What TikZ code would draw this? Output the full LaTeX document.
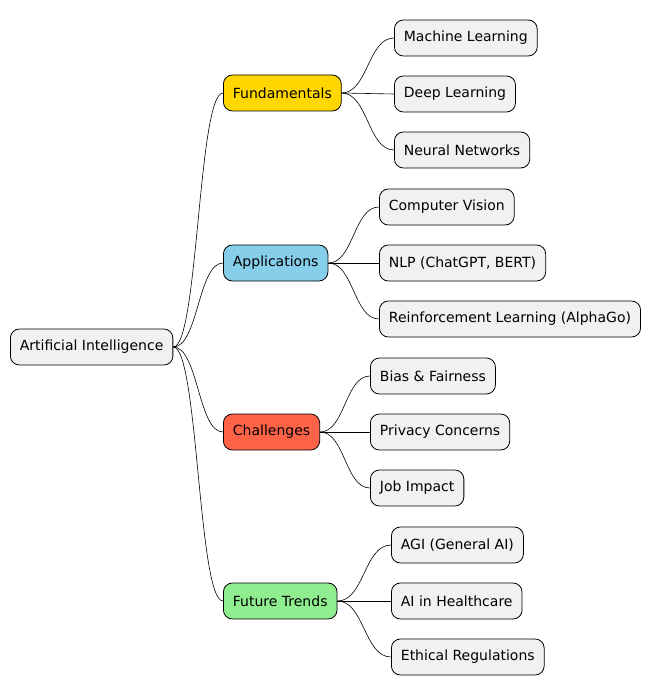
\documentclass[tikz,border=0pt]{standalone}
\usepackage{fontspec}
\setmainfont{DejaVu Sans}
\usetikzlibrary{calc}
\definecolor{cgold}{RGB}{255,215,0}
\definecolor{csky}{RGB}{135,206,235}
\definecolor{ctom}{RGB}{255,99,71}
\definecolor{cgrn}{RGB}{144,238,144}
\definecolor{cleaf}{RGB}{241,241,241}
\begin{document}
\begin{tikzpicture}[x=1pt,y=-1pt,
  box/.style={draw=black,line width=0.8pt,rounded corners=9pt,minimum height=36pt,inner xsep=9.5pt,anchor=west,font=\fontsize{14}{16}\selectfont,fill=#1},
  box/.default=cleaf,
  edge/.style={draw=black,line width=0.6pt}]
\useasboundingbox (0,0) rectangle (662,695);
\node[box] (r) at (10,347) {Artificial Intelligence};
\node[box=cgold] (f) at (223,93) {Fundamentals};
\node[box=csky] (a) at (223,263) {Applications};
\node[box=ctom] (c) at (223,432) {Challenges};
\node[box=cgrn] (t) at (223,601) {Future Trends};
\node[box] (f1) at (394,38) {Machine Learning};
\node[box] (f2) at (394,94) {Deep Learning};
\node[box] (f3) at (394,150) {Neural Networks};
\node[box] (a1) at (379,207) {Computer Vision};
\node[box] (a2) at (379,263) {NLP (ChatGPT, BERT)};
\node[box] (a3) at (379,319) {Reinforcement Learning (AlphaGo)};
\node[box] (c1) at (370,376) {Bias \& Fairness};
\node[box] (c2) at (370,432) {Privacy Concerns};
\node[box] (c3) at (370,488) {Job Impact};
\node[box] (t1) at (391,545) {AGI (General AI)};
\node[box] (t2) at (391,601) {AI in Healthcare};
\node[box] (t3) at (391,657) {Ethical Regulations};
\foreach \sa/\sb in {r/f,r/a,r/c,r/t,f/f1,f/f2,f/f3,a/a1,a/a2,a/a3,c/c1,c/c2,c/c3,t/t1,t/t2,t/t3}{
  \draw[edge] let \p1=(\sa.east), \p2=(\sb.west) in
    (\p1) .. controls ({0.5*\x1+0.5*\x2},\y1) and ({0.5*\x1+0.5*\x2},\y2) .. (\p2);
}
\end{tikzpicture}
\end{document}
